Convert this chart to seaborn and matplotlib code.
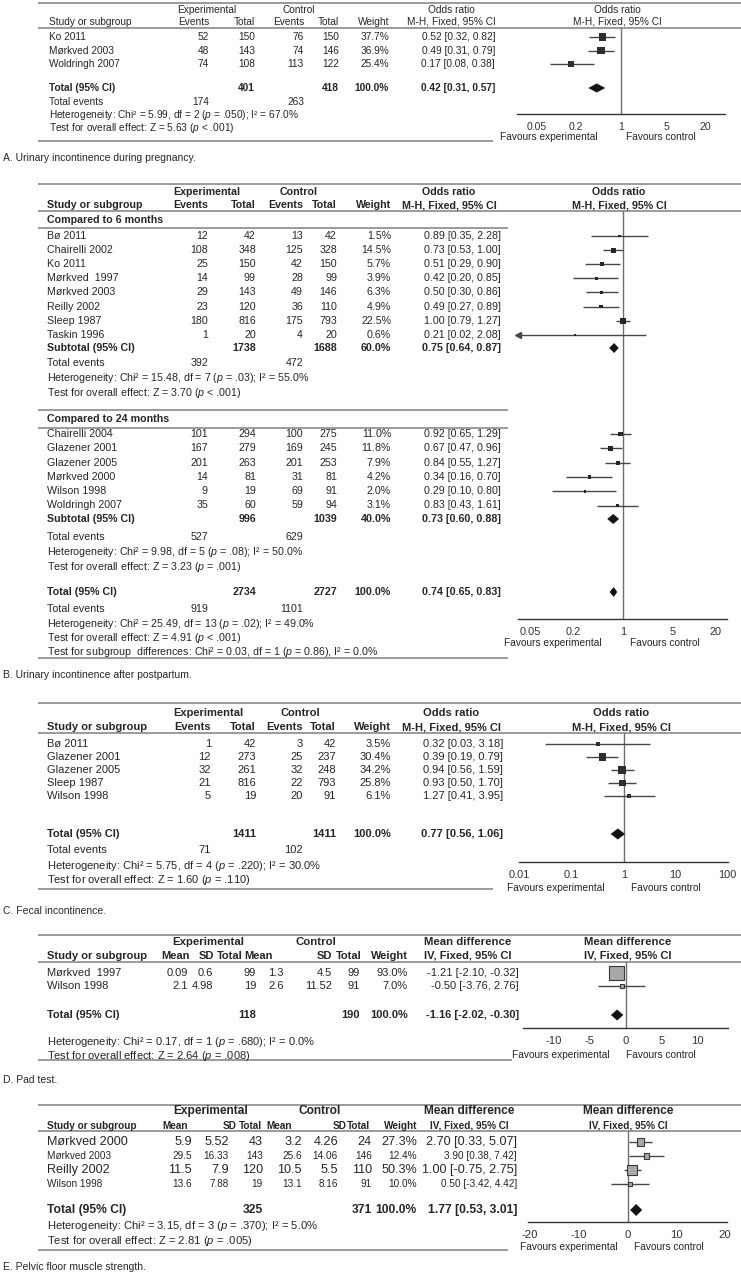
import numpy as np
import pandas as pd
import matplotlib
matplotlib.use("Agg")
import matplotlib.pyplot as plt
from matplotlib import font_manager
from matplotlib.ticker import NullLocator
import seaborn as sns

# ---------------- data ----------------
# A. Urinary incontinence during pregnancy
a_study = ["Ko 2011", "Mørkved 2003", "Woldringh 2007"]
a_exp_ev = [52, 48, 74]
a_exp_n = [150, 143, 108]
a_ctl_ev = [76, 74, 113]
a_ctl_n = [150, 146, 122]
a_weight = [37.7, 36.9, 25.4]
a_or = [0.52, 0.49, 0.17]
a_lo = [0.32, 0.31, 0.08]
a_hi = [0.82, 0.79, 0.38]
a_total = [401, 418, 100.0, 0.42, 0.31, 0.57]
a_events = [174, 263]
a_het = "Heterogeneity: Chi² = 5.99, df = 2 ($\\mathit{p}$ = .050); I² = 67.0%"
a_test = "Test for overall effect: Z = 5.63 ($\\mathit{p}$ < .001)"

# B. Urinary incontinence after postpartum
b6_study = ["Bø 2011", "Chairelli 2002", "Ko 2011", "Mørkved  1997", "Mørkved 2003",
            "Reilly 2002", "Sleep 1987", "Taskin 1996"]
b6_exp_ev = [12, 108, 25, 14, 29, 23, 180, 1]
b6_exp_n = [42, 348, 150, 99, 143, 120, 816, 20]
b6_ctl_ev = [13, 125, 42, 28, 49, 36, 175, 4]
b6_ctl_n = [42, 328, 150, 99, 146, 110, 793, 20]
b6_weight = [1.5, 14.5, 5.7, 3.9, 6.3, 4.9, 22.5, 0.6]
b6_or = [0.89, 0.73, 0.51, 0.42, 0.50, 0.49, 1.00, 0.21]
b6_lo = [0.35, 0.53, 0.29, 0.20, 0.30, 0.27, 0.79, 0.02]
b6_hi = [2.28, 1.00, 0.90, 0.85, 0.86, 0.89, 1.27, 2.08]
b6_total = [1738, 1688, 60.0, 0.75, 0.64, 0.87]
b6_events = [392, 472]
b6_het = "Heterogeneity: Chi² = 15.48, df = 7 ($\\mathit{p}$ = .03); I² = 55.0%"
b6_test = "Test for overall effect: Z = 3.70 ($\\mathit{p}$ < .001)"

b24_study = ["Chairelli 2004", "Glazener 2001", "Glazener 2005", "Mørkved 2000",
             "Wilson 1998", "Woldringh 2007"]
b24_exp_ev = [101, 167, 201, 14, 9, 35]
b24_exp_n = [294, 279, 263, 81, 19, 60]
b24_ctl_ev = [100, 169, 201, 31, 69, 59]
b24_ctl_n = [275, 245, 253, 81, 91, 94]
b24_weight = [11.0, 11.8, 7.9, 4.2, 2.0, 3.1]
b24_or = [0.92, 0.67, 0.84, 0.34, 0.29, 0.83]
b24_lo = [0.65, 0.47, 0.55, 0.16, 0.10, 0.43]
b24_hi = [1.29, 0.96, 1.27, 0.70, 0.80, 1.61]
b24_total = [996, 1039, 40.0, 0.73, 0.60, 0.88]
b24_events = [527, 629]
b24_het = "Heterogeneity: Chi² = 9.98, df = 5 ($\\mathit{p}$ = .08); I² = 50.0%"
b24_test = "Test for overall effect: Z = 3.23 ($\\mathit{p}$ = .001)"

b_total = [2734, 2727, 100.0, 0.74, 0.65, 0.83]
b_events = [919, 1101]
b_het = "Heterogeneity: Chi² = 25.49, df = 13 ($\\mathit{p}$ = .02); I² = 49.0%"
b_test = "Test for overall effect: Z = 4.91 ($\\mathit{p}$ < .001)"
b_sub = "Test for subgroup  differences: Chi² = 0.03, df = 1 ($\\mathit{p}$ = 0.86), I² = 0.0%"

# C. Fecal incontinence
c_study = ["Bø 2011", "Glazener 2001", "Glazener 2005", "Sleep 1987", "Wilson 1998"]
c_exp_ev = [1, 12, 32, 21, 5]
c_exp_n = [42, 273, 261, 816, 19]
c_ctl_ev = [3, 25, 32, 22, 20]
c_ctl_n = [42, 237, 248, 793, 91]
c_weight = [3.5, 30.4, 34.2, 25.8, 6.1]
c_or = [0.32, 0.39, 0.94, 0.93, 1.27]
c_lo = [0.03, 0.19, 0.56, 0.50, 0.41]
c_hi = [3.18, 0.79, 1.59, 1.70, 3.95]
c_total = [1411, 1411, 100.0, 0.77, 0.56, 1.06]
c_events = [71, 102]
c_het = "Heterogeneity: Chi² = 5.75, df = 4 ($\\mathit{p}$ = .220); I² = 30.0%"
c_test = "Test for overall effect: Z = 1.60 ($\\mathit{p}$ = .110)"

# D. Pad test
d_study = ["Mørkved  1997", "Wilson 1998"]
d_exp_mean = [0.09, 2.1]
d_exp_sd = [0.6, 4.98]
d_exp_n = [99, 19]
d_ctl_mean = [1.3, 2.6]
d_ctl_sd = [4.5, 11.52]
d_ctl_n = [99, 91]
d_weight = [93.0, 7.0]
d_md = [-1.21, -0.50]
d_lo = [-2.10, -3.76]
d_hi = [-0.32, 2.76]
d_total = [118, 190, 100.0, -1.16, -2.02, -0.30]
d_het = "Heterogeneity: Chi² = 0.17, df = 1 ($\\mathit{p}$ = .680); I² = 0.0%"
d_test = "Test for overall effect: Z = 2.64 ($\\mathit{p}$ = .008)"

# E. Pelvic floor muscle strength
e_study = ["Mørkved 2000", "Mørkved 2003", "Reilly 2002", "Wilson 1998"]
e_exp_mean = [5.9, 29.5, 11.5, 13.6]
e_exp_sd = [5.52, 16.33, 7.9, 7.88]
e_exp_n = [43, 143, 120, 19]
e_ctl_mean = [3.2, 25.6, 10.5, 13.1]
e_ctl_sd = [4.26, 14.06, 5.5, 8.16]
e_ctl_n = [24, 146, 110, 91]
e_weight = [27.3, 12.4, 50.3, 10.0]
e_md = [2.70, 3.90, 1.00, 0.50]
e_lo = [0.33, 0.38, -0.75, -3.42]
e_hi = [5.07, 7.42, 2.75, 4.42]
e_total = [325, 371, 100.0, 1.77, 0.53, 3.01]
e_het = "Heterogeneity: Chi² = 3.15, df = 3 ($\\mathit{p}$ = .370); I² = 5.0%"
e_test = "Test for overall effect: Z = 2.81 ($\\mathit{p}$ = .005)"

captions = ["A. Urinary incontinence during pregnancy.",
            "B. Urinary incontinence after postpartum.",
            "C. Fecal incontinence.",
            "D. Pad test.",
            "E. Pelvic floor muscle strength."]

# ---------------- style ----------------
sns.set_style("white")
names = {f.name for f in font_manager.fontManager.ttflist}
FONT = "Liberation Sans Narrow" if "Liberation Sans Narrow" in names else "Liberation Sans"
K = 1.12 if FONT.endswith("Narrow") else 0.95
plt.rcParams["font.family"] = [FONT, "DejaVu Sans"]
plt.rcParams["mathtext.fontset"] = "custom"
plt.rcParams["mathtext.rm"] = FONT
plt.rcParams["mathtext.it"] = FONT + ":italic"
plt.rcParams["mathtext.bf"] = FONT + ":bold"

W, H = 741, 1280
TXT = "#262626"
RULE = "#8a8a8a"
DARK = "#333333"
CI = "#474747"

fig = plt.figure(figsize=(W / 100, H / 100), dpi=100)
bg = fig.add_axes([0, 0, 1, 1])
bg.set_xlim(0, W)
bg.set_ylim(H, 0)
bg.axis("off")


def txt(x, y, s, size, ha="left", bold=False):
    bg.text(x, y, s, ha=ha, va="center", fontsize=size * K, color=TXT,
            fontweight="bold" if bold else "normal")


def rule(y, x1=W, x0=38):
    bg.plot([x0, x1], [y, y], color=RULE, lw=1.2, solid_capstyle="butt")


def forest(x0, x1, ytop, yaxis, xlim, log=True):
    ax = fig.add_axes([x0 / W, 1 - yaxis / H, (x1 - x0) / W, (yaxis - ytop) / H])
    if log:
        ax.set_xscale("log")
    ax.set_xlim(*xlim)
    ax.set_ylim(yaxis, ytop)
    ax.patch.set_visible(False)
    for s in ["top", "left", "right"]:
        ax.spines[s].set_visible(False)
    ax.spines["bottom"].set_color(DARK)
    ax.spines["bottom"].set_linewidth(1)
    ax.axvline(1 if log else 0, color="#6e6e6e", lw=1, zorder=1)
    return ax


def finish(ax, xlim, ytop, yaxis, ticks, size):
    ax.set_xlim(*xlim)
    ax.set_ylim(yaxis, ytop)
    ax.set_xticks(ticks)
    ax.set_xticklabels([f"{t:g}" for t in ticks])
    ax.xaxis.set_minor_locator(NullLocator())
    ax.set_yticks([])
    ax.set_xlabel("")
    ax.set_ylabel("")
    ax.tick_params(axis="x", direction="inout", length=8, width=1, colors=DARK,
                   labelsize=size * K, pad=2)


def squares(ax, ys, est, lo, hi, w, c, face, edge, lw=0.0):
    xmin = ax.get_xlim()[0]
    for y, l, h in zip(ys, lo, hi):
        ax.hlines(y, max(l, xmin), h, color=CI, lw=1, zorder=2)
        if l < xmin:
            ax.plot([xmin], [y], marker="<", ms=5, color=CI, clip_on=False, zorder=2)
    df = pd.DataFrame({"est": est, "y": ys, "w": w})
    sns.scatterplot(data=df, x="est", y="y", size="w", size_norm=(0, 100),
                    sizes=(2, c * c * 0.5184 * 100), marker="s", color=face,
                    edgecolor=edge, linewidth=lw, legend=False, ax=ax, zorder=3)


def diamond(ax, y, tot, hh):
    ax.fill([tot[4], tot[3], tot[5], tot[3]], [y, y - hh, y, y + hh],
            color="#141414", lw=0, zorder=3)


def or_header(y1, y2, c, size, bold, rcx):
    txt(c["exp"], y1, "Experimental", size, "center", bold)
    txt(c["ctl"], y1, "Control", size, "center", bold)
    txt(c["orc"], y1, "Odds ratio", size, "center", bold)
    txt(rcx, y1, "Odds ratio", size, "center", bold)
    txt(c["study"], y2, "Study or subgroup", size, bold=bold)
    txt(c["ee"], y2, "Events", size, "right", bold)
    txt(c["et"], y2, "Total", size, "right", bold)
    txt(c["ce"], y2, "Events", size, "right", bold)
    txt(c["ct"], y2, "Total", size, "right", bold)
    txt(c["w"], y2, "Weight", size, "right", bold)
    txt(c["orc"], y2, "M-H, Fixed, 95% CI", size, "center", bold)
    txt(rcx, y2, "M-H, Fixed, 95% CI", size, "center", bold)


def or_rows(ys, st, ee, et, ce, ct, w, est, lo, hi, c, size):
    for i, y in enumerate(ys):
        txt(c["study"], y, st[i], size)
        txt(c["ee"], y, str(ee[i]), size, "right")
        txt(c["et"], y, str(et[i]), size, "right")
        txt(c["ce"], y, str(ce[i]), size, "right")
        txt(c["ct"], y, str(ct[i]), size, "right")
        txt(c["w"], y, f"{w[i]:.1f}%", size, "right")
        txt(c["est"], y, f"{est[i]:.2f} [{lo[i]:.2f}, {hi[i]:.2f}]", size, "right")


def total_row(y, label, tot, c, size, n1="et", n2="ct"):
    txt(c["study"], y, label, size, bold=True)
    txt(c[n1], y, str(tot[0]), size, "right", True)
    txt(c[n2], y, str(tot[1]), size, "right", True)
    txt(c["w"], y, f"{tot[2]:.1f}%", size, "right", True)
    txt(c["est"], y, f"{tot[3]:.2f} [{tot[4]:.2f}, {tot[5]:.2f}]", size, "right", True)


def events_row(y, ev, c, size):
    txt(c["study"], y, "Total events", size)
    txt(c["ee"], y, str(ev[0]), size, "right")
    txt(c["ce"], y, str(ev[1]), size, "right")


def md_header(y1, y2, c, size1, size2, rcx):
    txt(c["exp"], y1, "Experimental", size1, "center", True)
    txt(c["ctl"], y1, "Control", size1, "center", True)
    txt(c["mdc"], y1, "Mean difference", size1, "center", True)
    txt(rcx, y1, "Mean difference", size1, "center", True)
    txt(c["study"], y2, "Study or subgroup", size2, bold=True)
    txt(c["hm1"], y2, "Mean", size2, "right", True)
    txt(c["hs1"], y2, "SD", size2, "right", True)
    txt(c["hn1"], y2, "Total", size2, "right", True)
    txt(c["hm2"], y2, "Mean", size2, "right", True)
    txt(c["hs2"], y2, "SD", size2, "right", True)
    txt(c["hn2"], y2, "Total", size2, "right", True)
    txt(c["w"], y2, "Weight", size2, "right", True)
    txt(c["mdc"], y2, "IV, Fixed, 95% CI", size2, "center", True)
    txt(rcx, y2, "IV, Fixed, 95% CI", size2, "center", True)


def md_rows(ys, st, m1, s1, n1, m2, s2, n2, w, est, lo, hi, c, sizes):
    for i, y in enumerate(ys):
        sz = sizes[i]
        txt(c["study"], y, st[i], sz)
        txt(c["m1"], y, f"{m1[i]:g}", sz, "right")
        txt(c["s1"], y, f"{s1[i]:g}", sz, "right")
        txt(c["n1"], y, str(n1[i]), sz, "right")
        txt(c["m2"], y, f"{m2[i]:g}", sz, "right")
        txt(c["s2"], y, f"{s2[i]:g}", sz, "right")
        txt(c["n2"], y, str(n2[i]), sz, "right")
        txt(c["w"], y, f"{w[i]:.1f}%", sz, "right")
        txt(c["est"], y, f"{est[i]:.2f} [{lo[i]:.2f}, {hi[i]:.2f}]", sz, "right")


def favours(y, xl, xr, size=7.7):
    txt(xl, y, "Favours experimental", size, "center")
    txt(xr, y, "Favours control", size, "center")


CAP = 7.9

# ---------------- panel A ----------------
sa = 7.7
ca = dict(study=49, ee=209, et=255, ce=304, ct=339, w=389, est=495, exp=207, ctl=299, orc=451)
rule(3)
rule(28)
or_header(10, 22, ca, sa, False, 617)
a_y = 37 + 13.5 * np.arange(len(a_study))
or_rows(a_y, a_study, a_exp_ev, a_exp_n, a_ctl_ev, a_ctl_n, a_weight, a_or, a_lo, a_hi, ca, sa)
total_row(88, "Total (95% CI)", a_total, ca, sa)
events_row(102, a_events, ca, sa)
txt(49, 115, a_het, sa)
txt(49, 128, a_test, sa)
rule(141, 493)
xa = (0.0244, 40.9)
ax = forest(517, 725, 28, 114, xa)
squares(ax, a_y, a_or, a_lo, a_hi, a_weight, 1.15, "#2e2e2e", "none")
diamond(ax, 88, a_total, 4.5)
finish(ax, xa, 28, 114, [0.05, 0.2, 1, 5, 20], 8)
favours(137, 549, 661)
txt(3, 158, captions[0], CAP)

# ---------------- panel B ----------------
sb = 8.1
cb = dict(study=47, ee=208, et=256, ce=303, ct=337, w=391, est=501, exp=207, ctl=299, orc=449)
rule(184)
rule(211)
or_header(192, 205, cb, sb, True, 619)
txt(47, 220, "Compared to 6 months", sb, bold=True)
rule(228, 508)
b6_y = 236 + 14.1 * np.arange(len(b6_study))
or_rows(b6_y, b6_study, b6_exp_ev, b6_exp_n, b6_ctl_ev, b6_ctl_n, b6_weight, b6_or, b6_lo, b6_hi, cb, sb)
total_row(348, "Subtotal (95% CI)", b6_total, cb, sb)
events_row(363, b6_events, cb, sb)
txt(47, 378, b6_het, sb)
txt(47, 393, b6_test, sb)
rule(410, 508)
txt(47, 419, "Compared to 24 months", sb, bold=True)
rule(428, 508)
b24_y = 434 + 14.3 * np.arange(len(b24_study))
or_rows(b24_y, b24_study, b24_exp_ev, b24_exp_n, b24_ctl_ev, b24_ctl_n, b24_weight, b24_or, b24_lo, b24_hi, cb, sb)
total_row(519, "Subtotal (95% CI)", b24_total, cb, sb)
events_row(537, b24_events, cb, sb)
txt(47, 552, b24_het, sb)
txt(47, 567, b24_test, sb)
total_row(592, "Total (95% CI)", b_total, cb, sb)
events_row(609, b_events, cb, sb)
txt(47, 624, b_het, sb)
txt(47, 638, b_test, sb)
txt(47, 652, b_sub, sb)
rule(658, 508)
xb = (0.0332, 29.2)
ax = forest(518, 727, 211, 619, xb)
squares(ax, b6_y, b6_or, b6_lo, b6_hi, b6_weight, 1.25, "#262626", "none")
squares(ax, b24_y, b24_or, b24_lo, b24_hi, b24_weight, 1.25, "#262626", "none")
diamond(ax, 348, b6_total, 5)
diamond(ax, 519, b24_total, 5)
diamond(ax, 592, b_total, 5)
finish(ax, xb, 211, 619, [0.05, 0.2, 1, 5, 20], 8.3)
favours(643, 553, 665)
txt(3, 675, captions[1], CAP)

# ---------------- panel C ----------------
sc = 8.4
cc = dict(study=47, ee=211, et=256, ce=303, ct=336, w=391, est=503, exp=208, ctl=300, orc=451)
rule(703)
rule(733)
or_header(713, 727, cc, sc, True, 621)
c_y = 744 + 13 * np.arange(len(c_study))
or_rows(c_y, c_study, c_exp_ev, c_exp_n, c_ctl_ev, c_ctl_n, c_weight, c_or, c_lo, c_hi, cc, sc)
total_row(834, "Total (95% CI)", c_total, cc, sc)
events_row(850, c_events, cc, sc)
txt(47, 866, c_het, sc)
txt(47, 880, c_test, sc)
rule(889, 493)
xc = (0.0097, 101)
ax = forest(519, 728, 733, 862, xc)
squares(ax, c_y, c_or, c_lo, c_hi, c_weight, 1.3, "#2e2e2e", "none")
diamond(ax, 834, c_total, 5.5)
finish(ax, xc, 733, 862, [0.01, 0.1, 1, 10, 100], 8.3)
favours(888, 556, 666)
txt(3, 911, captions[2], CAP)

# ---------------- panel D ----------------
sd = 8.4
cd = dict(study=47, m1=188, s1=213, n1=256, m2=284, s2=332, n2=360, w=408, est=519,
          hm1=190, hs1=214, hn1=243, hm2=273, hs2=332, hn2=362,
          exp=208, ctl=316, mdc=468)
rule(935)
rule(962)
md_header(942, 956, cd, 8.6, 8.4, 628)
d_y = 973 + 13 * np.arange(len(d_study))
md_rows(d_y, d_study, d_exp_mean, d_exp_sd, d_exp_n, d_ctl_mean, d_ctl_sd, d_ctl_n,
        d_weight, d_md, d_lo, d_hi, cd, [sd, sd])
total_row(1015, "Total (95% CI)", d_total, cd, sd, "n1", "n2")
txt(47, 1042, d_het, sd)
txt(47, 1056, d_test, sd)
rule(1060, 512)
xd = (-14.2, 14.2)
ax = forest(523, 728, 962, 1028, xd, log=False)
squares(ax, d_y, d_md, d_lo, d_hi, d_weight, 1.55, "#a8a8a8", "#3a3a3a", 0.8)
diamond(ax, 1015, d_total, 5.5)
finish(ax, xd, 962, 1028, [-10, -5, 0, 5, 10], 8.5)
favours(1055, 561, 661)
txt(3, 1080, captions[3], CAP)

# ---------------- panel E ----------------
ce_ = dict(study=47, m1=192, s1=229, n1=263, m2=302, s2=338, n2=372, w=417, est=517,
           hm1=188, hs1=237, hn1=262, hm2=292, hs2=347, hn2=370,
           exp=211, ctl=320, mdc=469)
rule(1105)
rule(1131)
md_header(1111, 1126, ce_, 9.0, 7.6, 628)
e_y = 1142 + 14 * np.arange(len(e_study))
md_rows(e_y, e_study, e_exp_mean, e_exp_sd, e_exp_n, e_ctl_mean, e_ctl_sd, e_ctl_n,
        e_weight, e_md, e_lo, e_hi, ce_, [9.6, 7.6, 9.6, 7.6])
total_row(1210, "Total (95% CI)", e_total, ce_, 9.2, "n1", "n2")
txt(47, 1226, e_het, 8.5)
txt(47, 1241, e_test, 8.5)
rule(1250, 508)
xe = (-20.4, 20.4)
ax = forest(528, 727, 1131, 1222, xe, log=False)
squares(ax, e_y, e_md, e_lo, e_hi, e_weight, 1.42, "#a8a8a8", "#3a3a3a", 0.8)
diamond(ax, 1210, e_total, 6)
finish(ax, xe, 1131, 1222, [-20, -10, 0, 10, 20], 8.5)
favours(1247, 569, 669)
txt(3, 1267, captions[4], CAP)

fig.savefig("out.png", dpi=100)
